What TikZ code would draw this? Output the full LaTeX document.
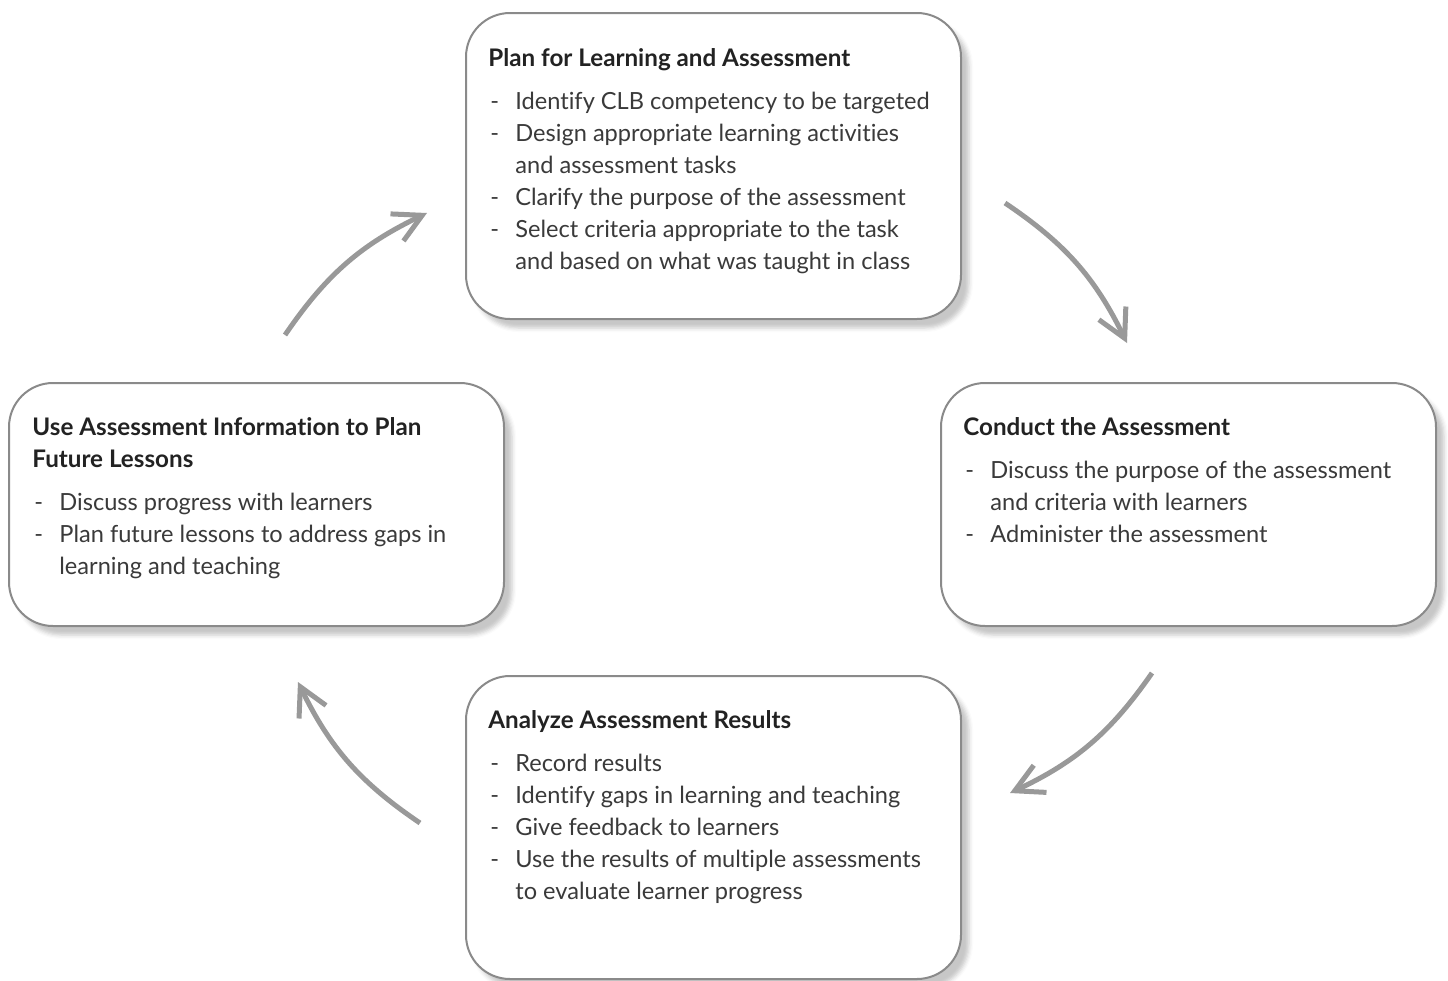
\documentclass[tikz,border=0pt]{standalone}
\usepackage{fontspec}
\setmainfont{Lato}[Ligatures={NoCommon}]
\usetikzlibrary{arrows.meta,shadows.blur}

\definecolor{boxline}{HTML}{8A8A8A}
\definecolor{arrowgray}{HTML}{999999}
\definecolor{bodytext}{HTML}{3A3A3A}
\definecolor{titletext}{HTML}{222222}

% one stage: bold heading followed by dash items with hanging indent
\newenvironment{stagelist}
  {\fontsize{11.8}{16}\selectfont\color{bodytext}\begin{tabular}[t]{@{}l@{}l@{}}}
  {\end{tabular}}
\newcommand{\stagehead}[1]{\multicolumn{2}{@{}l@{}}{\fontsize{12.1}{16}\bfseries\color{titletext}#1}}
\newcommand{\dashitem}{\makebox[13.5pt][l]{\hspace{1pt}-}}

\tikzset{
  stagebox/.style={draw=boxline, line width=1pt, fill=white, rounded corners=22pt,
    inner sep=0pt, anchor=north west, minimum width=247.5pt,
    blur shadow={shadow xshift=4pt, shadow yshift=-4.5pt, shadow blur radius=2pt, shadow opacity=22}},
  stagetext/.style={inner sep=0pt, anchor=base west},
  cyclearrow/.style={draw=arrowgray, line width=2.5pt,
    -{Straight Barb[length=14pt, width=15pt]}}
}

\begin{document}
\begin{tikzpicture}[x=0.5pt, y=-0.5pt]
\useasboundingbox (0,0) rectangle (1448,981);

% boxes
\node[stagebox, minimum height=153pt] (plan) at (465,12) {};
\node[stagebox, minimum height=121.5pt] (conduct) at (940,382) {};
\node[stagebox, minimum height=121.5pt] (use) at (8,382) {};
\node[stagebox, minimum height=151.5pt] (analyze) at (465,675) {};

% texts
\node[stagetext] (plantext) at (488,66) {\begin{stagelist}
\stagehead{Plan for Learning and Assessment}\\[5.5pt]
\dashitem & Identify CLB competency to be targeted\\
\dashitem & Design appropriate learning activities\\
 & and assessment tasks\\
\dashitem & Clarify the purpose of the assessment\\
\dashitem & Select criteria appropriate to the task\\
 & and based on what was taught in class
\end{stagelist}};

\node[stagetext] (conducttext) at (963,435) {\begin{stagelist}
\stagehead{Conduct the Assessment}\\[5.5pt]
\dashitem & Discuss the purpose of the assessment\\
 & and criteria with learners\\
\dashitem & Administer the assessment
\end{stagelist}};

\node[stagetext] (usetext) at (32,435) {\begin{stagelist}
\stagehead{Use Assessment Information to Plan}\\
\stagehead{Future Lessons}\\[5.5pt]
\dashitem & Discuss progress with learners\\
\dashitem & Plan future lessons to address gaps in\\
 & learning and teaching
\end{stagelist}};

\node[stagetext] (analyzetext) at (488,728) {\begin{stagelist}
\stagehead{Analyze Assessment Results}\\[5.5pt]
\dashitem & Record results\\
\dashitem & Identify gaps in learning and teaching\\
\dashitem & Give feedback to learners\\
\dashitem & Use the results of multiple assessments\\
 & to evaluate learner progress
\end{stagelist}};

% arrow end points
\coordinate (a1s) at (285,335);  \coordinate (a1e) at (427,213);
\coordinate (a2s) at (1005,203); \coordinate (a2e) at (1127,343);
\coordinate (a3s) at (1152,673); \coordinate (a3e) at (1010,793);
\coordinate (a4s) at (420,823);  \coordinate (a4e) at (298,682);

\draw[cyclearrow] (a1s) to[bend left=15] (a1e);
\draw[cyclearrow] (a2s) to[bend left=15] (a2e);
\draw[cyclearrow] (a3s) to[bend left=15] (a3e);
\draw[cyclearrow] (a4s) to[bend left=15] (a4e);
\end{tikzpicture}
\end{document}
